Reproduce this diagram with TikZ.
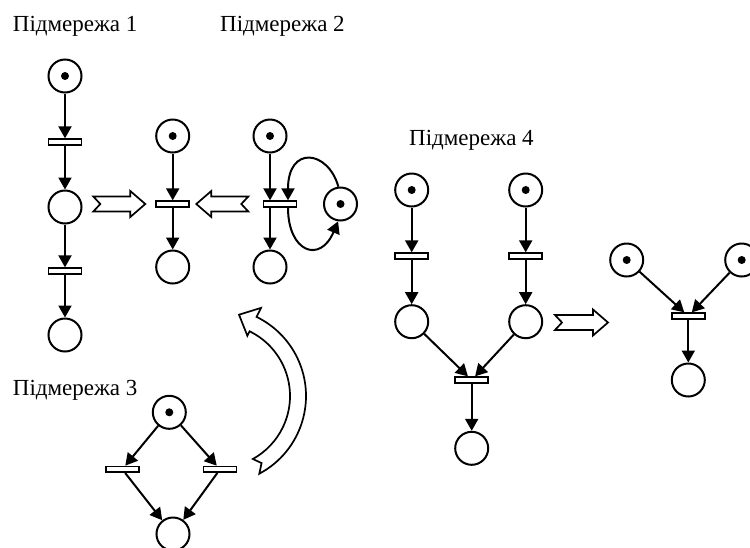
\documentclass[tikz,border=0pt]{standalone}
\usepackage{fontspec}
\setmainfont{Liberation Serif}
\usetikzlibrary{arrows.meta,calc}
\begin{document}
\begin{tikzpicture}[x=1pt,y=-1pt,
  place/.style={circle,draw,line width=2pt,minimum size=33pt,inner sep=0pt},
  token/.style={place,path picture={\fill (path picture bounding box.center) circle[radius=4pt];}},
  trans/.style={rectangle,draw,line width=1.8pt,minimum width=33pt,minimum height=5.5pt,inner sep=0pt,fill=white},
  flow/.style={line width=2pt,-{Triangle[length=12pt,width=13pt]}},
  lbl/.style={anchor=base west,inner sep=0pt,font=\fontsize{23}{26}\selectfont},
  block/.style={draw,line width=1.7pt,fill=white,line join=miter}]
\useasboundingbox (0,0) rectangle (750,547);

% labels
\node[lbl] (l1) at (12.7,31.5) {Підмережа 1};
\node[lbl] (l2) at (220,31.5) {Підмережа 2};
\node[lbl] (l3) at (12.7,395) {Підмережа 3};
\node[lbl] (l4) at (409,145) {Підмережа 4};

% subnet 1
\node[token] (p1a) at (65,76) {};
\node[trans] (t1a) at (65,142) {};
\node[place] (p1b) at (65,207) {};
\node[trans] (t1b) at (65,271) {};
\node[place] (p1c) at (65,335) {};
\draw[flow] (p1a) -- (t1a);
\draw[flow] (t1a) -- (p1b);
\draw[flow] (p1b) -- (t1b);
\draw[flow] (t1b) -- (p1c);

% subnet 2 (middle)
\node[token] (p2a) at (172.7,136) {};
\node[trans] (t2a) at (172.7,204) {};
\node[place] (p2b) at (172.7,267) {};
\draw[flow] (p2a) -- (t2a);
\draw[flow] (t2a) -- (p2b);

% subnet 2 (right, with loop)
\node[token] (p2c) at (270,136) {};
\node[trans] (t2b) at (280,204) {};
\node[place] (p2d) at (270,267) {};
\node[token] (p2e) at (340.5,204) {};
\draw[flow] (p2c) -- (p2c |- t2b.north);
\draw[flow] (p2d |- t2b.south) -- (p2d);
\draw[flow] (p2e.97) .. controls (328,150) and (288,145) .. ($(t2b.north)+(8,0)$);
\draw[flow] ($(t2b.south)+(8,0)$) .. controls (288,252) and (320,264) .. (p2e.262);

% block arrows
\draw[block,shift={(93.3,204)}] (0,-7.5) -- (37,-7.5) -- (37,-13) -- (52,0) -- (37,13) -- (37,7.5) -- (0,7.5) -- (7,0) -- cycle;
\draw[block,shift={(248.3,204)},xscale=-1] (0,-7.5) -- (37,-7.5) -- (37,-13) -- (52,0) -- (37,13) -- (37,7.5) -- (0,7.5) -- (7,0) -- cycle;
\draw[block,shift={(555,322.5)}] (0,-7.5) -- (38,-7.5) -- (38,-13) -- (53,0) -- (38,13) -- (38,7.5) -- (0,7.5) -- (7,0) -- cycle;

% curved block arrow
\draw[block,shift={(218,396)}] (62:88) arc[start angle=62,end angle=-64,radius=88]
  -- (-64:98) -- (-75.5:84) -- (-64:67) -- (-64:72)
  arc[start angle=-64,end angle=61,radius=72] -- (57:80) -- cycle;

% subnet 3
\node[token] (p3a) at (169.3,412.3) {};
\node[trans] (t3a) at (122.3,469.3) {};
\node[trans] (t3b) at (220,469.3) {};
\node[place] (p3b) at (173,534) {};
\draw[flow] (p3a) -- (t3a);
\draw[flow] (p3a) -- (t3b);
\draw[flow] (t3a) -- (p3b);
\draw[flow] (t3b) -- (p3b);

% subnet 4
\node[token] (p4a) at (411.7,190) {};
\node[token] (p4b) at (525.7,190) {};
\node[trans] (t4a) at (411.7,256) {};
\node[trans] (t4b) at (525.7,256) {};
\node[place] (p4c) at (411.7,321.7) {};
\node[place] (p4d) at (525.7,321.7) {};
\node[trans] (t4c) at (471.7,380) {};
\node[place] (p4e) at (471.7,448.3) {};
\draw[flow] (p4a) -- (t4a);
\draw[flow] (p4b) -- (t4b);
\draw[flow] (t4a) -- (p4c);
\draw[flow] (t4b) -- (p4d);
\draw[flow] (p4c) -- (t4c);
\draw[flow] (p4d) -- (t4c);
\draw[flow] (t4c) -- (p4e);

% merged net
\node[token] (p5a) at (626.7,260) {};
\node[token] (p5b) at (741.7,260) {};
\node[trans] (t5) at (688.3,316) {};
\node[place] (p5c) at (688.3,380) {};
\draw[flow] (p5a) -- (t5);
\draw[flow] (p5b) -- (t5);
\draw[flow] (t5) -- (p5c);
\end{tikzpicture}
\end{document}
